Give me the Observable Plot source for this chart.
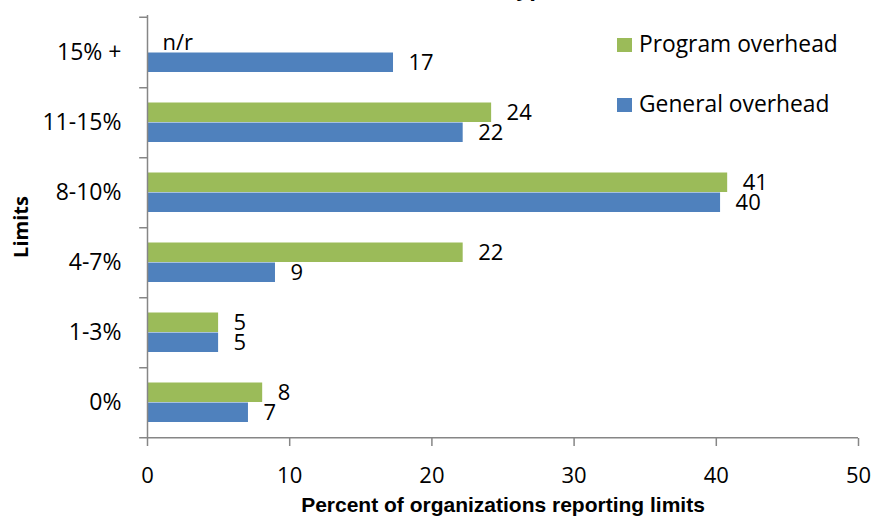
<!DOCTYPE html>
<html>
<head>
<meta charset="utf-8">
<script src="https://cdn.jsdelivr.net/npm/d3@7"></script>
<script src="https://cdn.jsdelivr.net/npm/@observablehq/plot@0.6"></script>
<style>
  html, body { margin: 0; padding: 0; background: #fff; }
  #wrap { position: relative; width: 878px; height: 520px; overflow: hidden; font-family: "Open Sans", sans-serif; }
  #title { position: absolute; left: 0; width: 567px; top: -24px; text-align: right; font-weight: bold; font-size: 22px; line-height: 22px; color: #000; white-space: nowrap; }
  .sw { position: absolute; left: 617px; width: 15px; height: 14px; }
  .lt { position: absolute; left: 639px; font-size: 22.8px; line-height: 22px; color: #000; white-space: nowrap; }
</style>
</head>
<body>
<div id="wrap">
  <div id="chart"></div>
  <div id="title"></div>
  <div id="legend"></div>
</div>
<script>
const titleText = "Overhead Limit Types";
const categories = ["15% +", "11-15%", "8-10%", "4-7%", "1-3%", "0%"];
const seriesNames = ["Program overhead", "General overhead"];
const seriesColors = ["#9BBB59", "#4F81BD"];
const programValues = [null, 24.2, 40.8, 22.2, 5.0, 8.1];
const generalValues = [17.3, 22.2, 40.3, 9.0, 5.0, 7.1];
const xTicks = [0, 10, 20, 30, 40, 50];
const xLabel = "Percent of organizations reporting limits";
const yLabel = "Limits";
const missingLabel = "n/r";

const programRows = categories.map((c, i) => ({category: c, value: programValues[i]}));
const generalRows = categories.map((c, i) => ({category: c, value: generalValues[i]}));
const labelText = d => d.value == null ? missingLabel : String(Math.round(d.value));
const labelX = d => d.value == null ? 0 : d.value;

const band = (520 - 82 - 15) / categories.length;
const axisColor = "#868686";

const chart = Plot.plot({
  width: 878,
  height: 520,
  marginLeft: 147,
  marginRight: 20,
  marginTop: 15,
  marginBottom: 82,
  style: {fontFamily: "'Open Sans', sans-serif", fontSize: "22px", color: "#000", background: "transparent", overflow: "visible"},
  x: {domain: [0, 50], axis: null},
  y: {domain: categories, padding: 0, axis: null},
  marks: [
    Plot.barX(programRows.filter(d => d.value != null), {x: "value", y: "category", fill: seriesColors[0], insetTop: 15.5, insetBottom: 35}),
    Plot.barX(generalRows, {x: "value", y: "category", fill: seriesColors[1], insetTop: 35.5, insetBottom: 15}),
    Plot.text(programRows, {x: labelX, y: "category", text: labelText, textAnchor: "start", dx: 15, dy: -10, fontSize: 22, fill: "#000"}),
    Plot.text(generalRows, {x: labelX, y: "category", text: labelText, textAnchor: "start", dx: 15, dy: 10, fontSize: 22, fill: "#000"}),
    // y axis line
    Plot.ruleX([0], {stroke: axisColor, strokeWidth: 1.5}),
    // category boundary ticks
    Plot.ruleY(categories, {y: d => d, x1: -0.55, x2: 0, dy: band / 2, stroke: axisColor, strokeWidth: 1.5}),
    Plot.ruleY([categories[0]], {y: d => d, x1: -0.55, x2: 0, dy: -band / 2, stroke: axisColor, strokeWidth: 1.5}),
    // x axis line
    Plot.ruleY([categories[categories.length - 1]], {y: d => d, x1: 0, x2: 50, dy: band / 2, stroke: axisColor, strokeWidth: 1.5}),
    Plot.axisX({ticks: xTicks, tickSize: 8, tickPadding: 21, stroke: axisColor, strokeWidth: 1.5, fill: "#000", fontSize: 22, label: null}),
    Plot.axisY({tickSize: 0, tickPadding: 26, fill: "#000", fontSize: 23, label: null}),
    Plot.text([xLabel], {frameAnchor: "bottom", dy: 73, fontFamily: "'Liberation Sans', Arial, sans-serif", fontWeight: "bold", fontSize: 21, fill: "#000"}),
    Plot.text([yLabel], {frameAnchor: "left", dx: -126, rotate: -90, textAnchor: "middle", fontWeight: "bold", fontSize: 20, fill: "#000"})
  ]
});
document.getElementById("chart").appendChild(chart);
document.getElementById("title").textContent = titleText;

const legend = document.getElementById("legend");
const swTops = [37.5, 98];
const txtTops = [32.5, 92.5];
seriesNames.forEach((name, i) => {
  const sw = document.createElement("div");
  sw.className = "sw";
  sw.style.top = swTops[i] + "px";
  sw.style.background = seriesColors[i];
  legend.appendChild(sw);
  const t = document.createElement("div");
  t.className = "lt";
  t.style.top = txtTops[i] + "px";
  t.textContent = name;
  legend.appendChild(t);
});
</script>
</body>
</html>
